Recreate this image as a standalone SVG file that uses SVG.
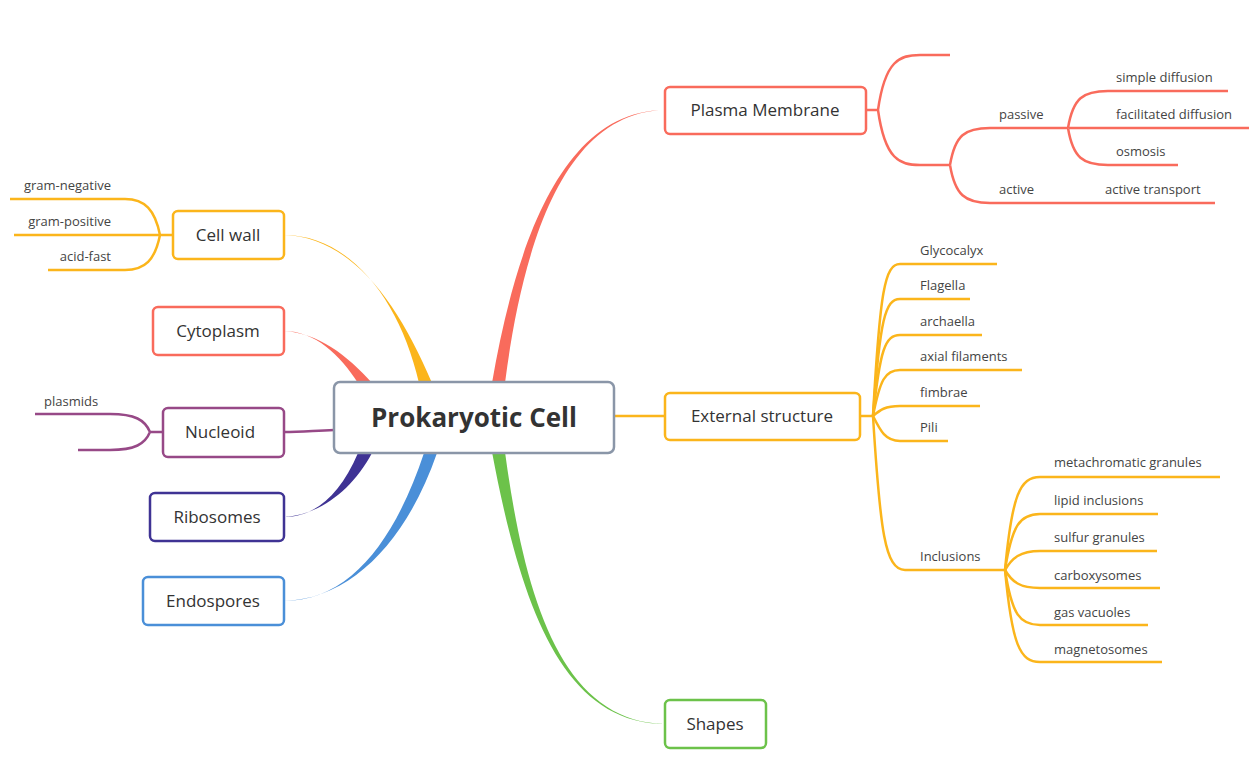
<svg xmlns="http://www.w3.org/2000/svg" width="1259" height="779" viewBox="0 0 1259 779">
<style>
.n{fill:#fff;stroke-width:2.5}
.t{font-family:"Open Sans","Liberation Sans",sans-serif;font-size:17px;fill:#333;text-anchor:middle}
.s{font-family:"Open Sans","Liberation Sans",sans-serif;font-size:13px;fill:#444}
.l{fill:none;stroke-width:2.5}
.r{stroke:#f96b5c}.o{stroke:#fbb51b}.p{stroke:#974987}
</style>
<rect width="1259" height="779" fill="#fff"/>
<g id="connectors">
<path d="M492,383 C515,250 560,110 665,110 C562,112 522,250 505,383 Z" fill="#f96b5c"/>
<path d="M492,452 C520,600 560,724 665,724 C562,722 525,600 505,452 Z" fill="#6cc24a"/>
<path d="M419,383 C400,300 350,235 284,235 C350,237 397,300 432,383 Z" fill="#fbb51b"/>
<path d="M358,383 C340,355 315,331 284,331 C318,333 347,355 372,383 Z" fill="#f96b5c"/>
<path d="M358,453 C340,495 315,517 284,517 C320,515 352,490 372,453 Z" fill="#3f3394"/>
<path d="M424,453 C395,540 350,601 284,601 C352,599 407,540 437,453 Z" fill="#4a8fd8"/>
<path d="M334,430 C310,431 300,432 284,432" class="l p" stroke-width="3"/>
<path d="M614,416 L665,416" class="l o" stroke-width="4"/>
<g class="l r">
<path d="M866,110 L878,110 M878,110 C885,60 900,55 920,55 L950,55 M878,110 C885,160 900,165 920,165 L950,165"/>
<path d="M950,165 C955,135 965,128 990,128 L1068,128 M950,165 C955,195 965,203 990,203 L1215,203"/>
<path d="M1068,128 C1073,98 1083,91 1108,91 L1228,91 M1068,128 L1249,128 M1068,128 C1073,158 1083,165 1108,165 L1178,165"/>
</g>
<g class="l o">
<path d="M860,416 L873,416"/>
<path d="M873,416 C880,290 885,264 900,264 L997,264"/>
<path d="M873,416 C880,320 885,299 900,299 L970,299"/>
<path d="M873,416 C880,350 885,335 900,335 L982,335"/>
<path d="M873,416 C880,380 885,370 900,370 L1022,370"/>
<path d="M873,416 C880,410 885,406 900,406 L980,406"/>
<path d="M873,416 C880,430 885,441 900,441 L948,441"/>
<path d="M873,416 C880,530 885,570 905,570 L1005,570"/>
<path d="M1005,570 C1012,495 1020,477 1040,477 L1220,477"/>
<path d="M1005,570 C1012,525 1020,514 1040,514 L1158,514"/>
<path d="M1005,570 C1012,558 1020,551 1040,551 L1157,551"/>
<path d="M1005,570 C1012,582 1020,588 1040,588 L1160,588"/>
<path d="M1005,570 C1012,615 1020,625 1040,625 L1148,625"/>
<path d="M1005,570 C1012,645 1020,662 1040,662 L1162,662"/>
<path d="M173,235 L160,235 M160,235 C155,210 145,199 125,199 L10,199 M160,235 L14,235 M160,235 C155,260 145,270 125,270 L48,270"/>
</g>
<path class="l p" d="M163,432 L150,432 M150,432 C145,420 135,414 110,414 L35,414 M150,432 C145,444 135,450 110,450 L78,450"/>
</g>
<g id="center"><rect class="n" x="334" y="382" width="280" height="71" rx="6" stroke="#8a96a8"/><text class="t" x="474" y="427" font-size="26" font-weight="bold" style="font-size:26px">Prokaryotic Cell</text></g>
<g id="plasma"><rect class="n r" x="665" y="87" width="201" height="47" rx="5"/><text class="t" x="765" y="116">Plasma Membrane</text></g>
<g id="external"><rect class="n o" x="665" y="393" width="195" height="47" rx="5"/><text class="t" x="762" y="422">External structure</text></g>
<g id="shapes"><rect class="n" stroke="#6cc24a" x="665" y="700" width="101" height="48" rx="5"/><text class="t" x="715" y="730">Shapes</text></g>
<g id="cellwall"><rect class="n o" x="173" y="211" width="111" height="48" rx="5"/><text class="t" x="228" y="241">Cell wall</text></g>
<g id="cytoplasm"><rect class="n r" x="153" y="307" width="131" height="48" rx="5"/><text class="t" x="218" y="337">Cytoplasm</text></g>
<g id="nucleoid"><rect class="n p" x="163" y="408" width="121" height="49" rx="5"/><text class="t" x="220" y="438">Nucleoid</text></g>
<g id="ribosomes"><rect class="n" stroke="#3f3394" x="150" y="493" width="134" height="48" rx="5"/><text class="t" x="217" y="523">Ribosomes</text></g>
<g id="endospores"><rect class="n" stroke="#4a8fd8" x="143" y="577" width="141" height="48" rx="5"/><text class="t" x="213" y="607">Endospores</text></g>
<g id="labels">
<text class="s" x="999" y="119">passive</text>
<text class="s" x="999" y="194">active</text>
<text class="s" x="1116" y="82">simple diffusion</text>
<text class="s" x="1116" y="119">facilitated diffusion</text>
<text class="s" x="1116" y="156">osmosis</text>
<text class="s" x="1105" y="194">active transport</text>
<text class="s" x="920" y="255">Glycocalyx</text>
<text class="s" x="920" y="290">Flagella</text>
<text class="s" x="920" y="326">archaella</text>
<text class="s" x="920" y="361">axial filaments</text>
<text class="s" x="920" y="397">fimbrae</text>
<text class="s" x="920" y="432">Pili</text>
<text class="s" x="920" y="561">Inclusions</text>
<text class="s" x="1054" y="467">metachromatic granules</text>
<text class="s" x="1054" y="505">lipid inclusions</text>
<text class="s" x="1054" y="542">sulfur granules</text>
<text class="s" x="1054" y="580">carboxysomes</text>
<text class="s" x="1054" y="617">gas vacuoles</text>
<text class="s" x="1054" y="654">magnetosomes</text>
<text class="s" x="111" y="190" text-anchor="end">gram-negative</text>
<text class="s" x="111" y="226" text-anchor="end">gram-positive</text>
<text class="s" x="111" y="261" text-anchor="end">acid-fast</text>
<text class="s" x="44" y="406">plasmids</text>
</g>
</svg>
